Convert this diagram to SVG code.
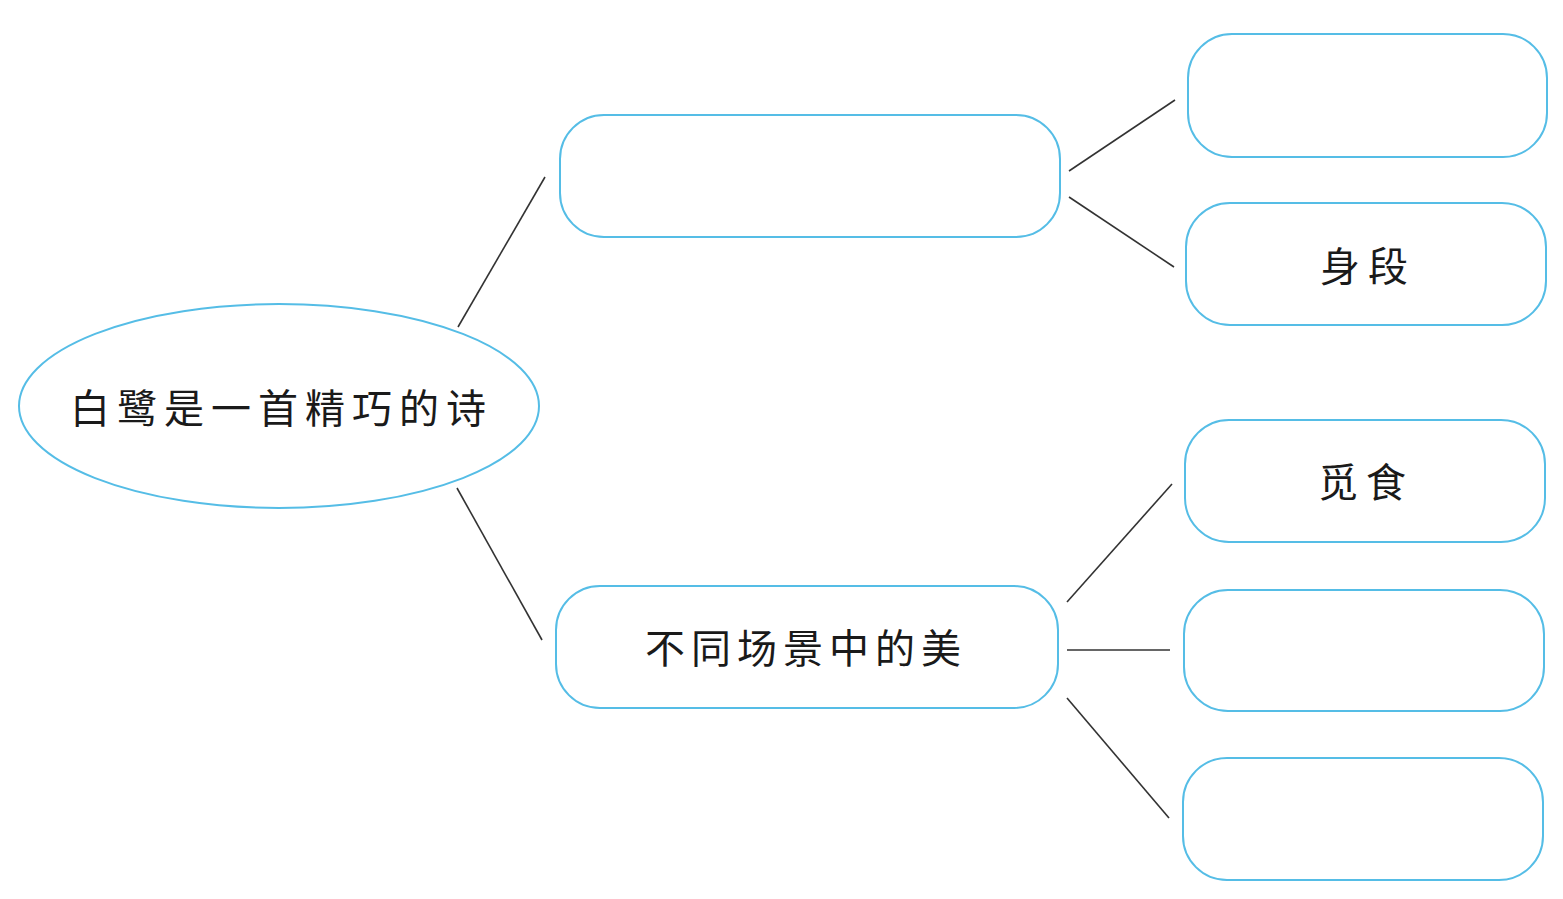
<svg xmlns="http://www.w3.org/2000/svg" width="1563" height="899" viewBox="0 0 1563 899">
<style>
.n{fill:#fff;stroke:#55bde6;stroke-width:2}
.c line{stroke:#333;stroke-width:1.6}
.t{font-family:"Noto Sans CJK SC","Noto Sans CJK TC",sans-serif;font-size:40px;fill:#1a1a1a}
</style>
<rect width="1563" height="899" fill="#fff"/>
<g class="c" id="connectors">
<line x1="458" y1="327" x2="545" y2="177"/>
<line x1="457" y1="488" x2="542" y2="640"/>
<line x1="1069" y1="171" x2="1175" y2="100"/>
<line x1="1069" y1="197" x2="1174" y2="267"/>
<line x1="1067" y1="602" x2="1172" y2="484"/>
<line x1="1067" y1="650" x2="1170" y2="650"/>
<line x1="1067" y1="698" x2="1169" y2="818"/>
</g>
<g id="root">
<ellipse class="n" cx="279" cy="406" rx="260" ry="102"/>
<text class="t" x="70" y="423" letter-spacing="7">白鹭是一首精巧的诗</text>
</g>
<g id="mid1"><rect class="n" x="560" y="115" width="500" height="122" rx="44"/></g>
<g id="mid2">
<rect class="n" x="556" y="586" width="502" height="122" rx="44"/>
<text class="t" x="645" y="663" letter-spacing="6">不同场景中的美</text>
</g>
<g id="r1"><rect class="n" x="1188" y="34" width="359" height="123" rx="44"/></g>
<g id="r2">
<rect class="n" x="1186" y="203" width="360" height="122" rx="44"/>
<text class="t" x="1320" y="281" letter-spacing="8">身段</text>
</g>
<g id="r3">
<rect class="n" x="1185" y="420" width="360" height="122" rx="44"/>
<text class="t" x="1318" y="497" letter-spacing="8">觅食</text>
</g>
<g id="r4"><rect class="n" x="1184" y="590" width="360" height="121" rx="44"/></g>
<g id="r5"><rect class="n" x="1183" y="758" width="360" height="122" rx="44"/></g>
</svg>
